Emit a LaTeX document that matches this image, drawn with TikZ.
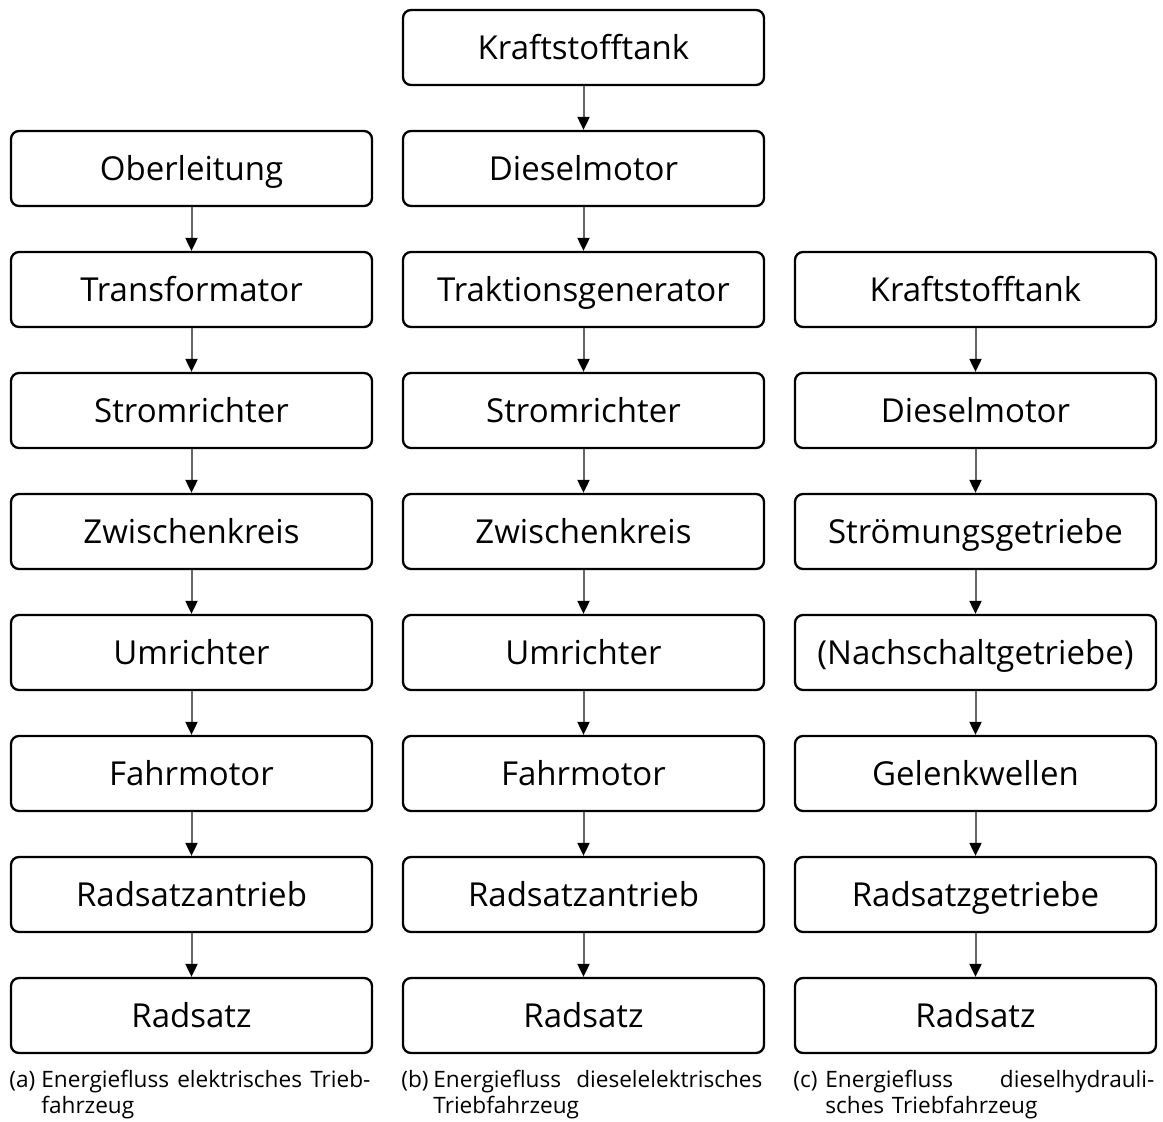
\documentclass[tikz,border=0pt]{standalone}
\usepackage{fontspec}
\setmainfont{Open Sans}
\usetikzlibrary{arrows.meta}
\tikzset{
  block/.style={draw, line width=1.15pt, rounded corners=4pt, minimum width=180.5pt,
    minimum height=37.5pt, inner sep=0pt, text height=11.8pt, text depth=0pt,
    font=\fontsize{16.5}{20}\selectfont},
  flow/.style={draw=black!60, line width=1pt, -{Triangle[black,length=6.5pt,width=6pt]}},
  subcap/.style={anchor=north west, inner sep=0pt, text width=182pt, align=left,
    font=\fontsize{11.3}{13}\selectfont}
}
\newcommand{\capline}[2]{\makebox[16pt][l]{#1}\hbox to 164.5pt{#2}}
\begin{document}
\begin{tikzpicture}[x=0.5pt,y=-0.5pt]
%
\useasboundingbox (0,0) rectangle (1163,1121);
%
% (a) elektrisches Triebfahrzeug
\node[block] (a1) at (191.5,168.5) {Oberleitung};
\node[block] (a2) at (191.5,289.5) {Transformator};
\node[block] (a3) at (191.5,410.5) {Stromrichter};
\node[block] (a4) at (191.5,531.5) {Zwischenkreis};
\node[block] (a5) at (191.5,652.5) {Umrichter};
\node[block] (a6) at (191.5,773.5) {Fahrmotor};
\node[block] (a7) at (191.5,894.5) {Radsatzantrieb};
\node[block] (a8) at (191.5,1015.5) {Radsatz};
%
% (b) dieselelektrisches Triebfahrzeug
\node[block] (b0) at (583.5,47.5) {Kraftstofftank};
\node[block] (b1) at (583.5,168.5) {Dieselmotor};
\node[block] (b2) at (583.5,289.5) {Traktionsgenerator};
\node[block] (b3) at (583.5,410.5) {Stromrichter};
\node[block] (b4) at (583.5,531.5) {Zwischenkreis};
\node[block] (b5) at (583.5,652.5) {Umrichter};
\node[block] (b6) at (583.5,773.5) {Fahrmotor};
\node[block] (b7) at (583.5,894.5) {Radsatzantrieb};
\node[block] (b8) at (583.5,1015.5) {Radsatz};
%
% (c) dieselhydraulisches Triebfahrzeug
\node[block] (c2) at (975.5,289.5) {Kraftstofftank};
\node[block] (c3) at (975.5,410.5) {Dieselmotor};
\node[block] (c4) at (975.5,531.5) {Strömungsgetriebe};
\node[block] (c5) at (975.5,652.5) {(Nachschaltgetriebe)};
\node[block] (c6) at (975.5,773.5) {Gelenkwellen};
\node[block] (c7) at (975.5,894.5) {Radsatzgetriebe};
\node[block] (c8) at (975.5,1015.5) {Radsatz};
%
\draw[flow] (a1) -- (a2);
\draw[flow] (a2) -- (a3);
\draw[flow] (a3) -- (a4);
\draw[flow] (a4) -- (a5);
\draw[flow] (a5) -- (a6);
\draw[flow] (a6) -- (a7);
\draw[flow] (a7) -- (a8);
%
\draw[flow] (b0) -- (b1);
\draw[flow] (b1) -- (b2);
\draw[flow] (b2) -- (b3);
\draw[flow] (b3) -- (b4);
\draw[flow] (b4) -- (b5);
\draw[flow] (b5) -- (b6);
\draw[flow] (b6) -- (b7);
\draw[flow] (b7) -- (b8);
%
\draw[flow] (c2) -- (c3);
\draw[flow] (c3) -- (c4);
\draw[flow] (c4) -- (c5);
\draw[flow] (c5) -- (c6);
\draw[flow] (c6) -- (c7);
\draw[flow] (c7) -- (c8);
%
% Unterschriften
\node[subcap] (capa) at (9,1070)
  {\capline{(a)}{Energiefluss\hfil\ elektrisches\hfil\ Trieb-}\\\hspace*{16pt}fahrzeug};
\node[subcap] (capb) at (401,1070)
  {\capline{(b)}{Energiefluss\hfill\ dieselelektrisches}\\\hspace*{16pt}Triebfahrzeug};
\node[subcap] (capc) at (793,1070)
  {\capline{(c)}{Energiefluss\hfill dieselhydrauli-}\\\hspace*{16pt}sches Triebfahrzeug};
%
\end{tikzpicture}
\end{document}
